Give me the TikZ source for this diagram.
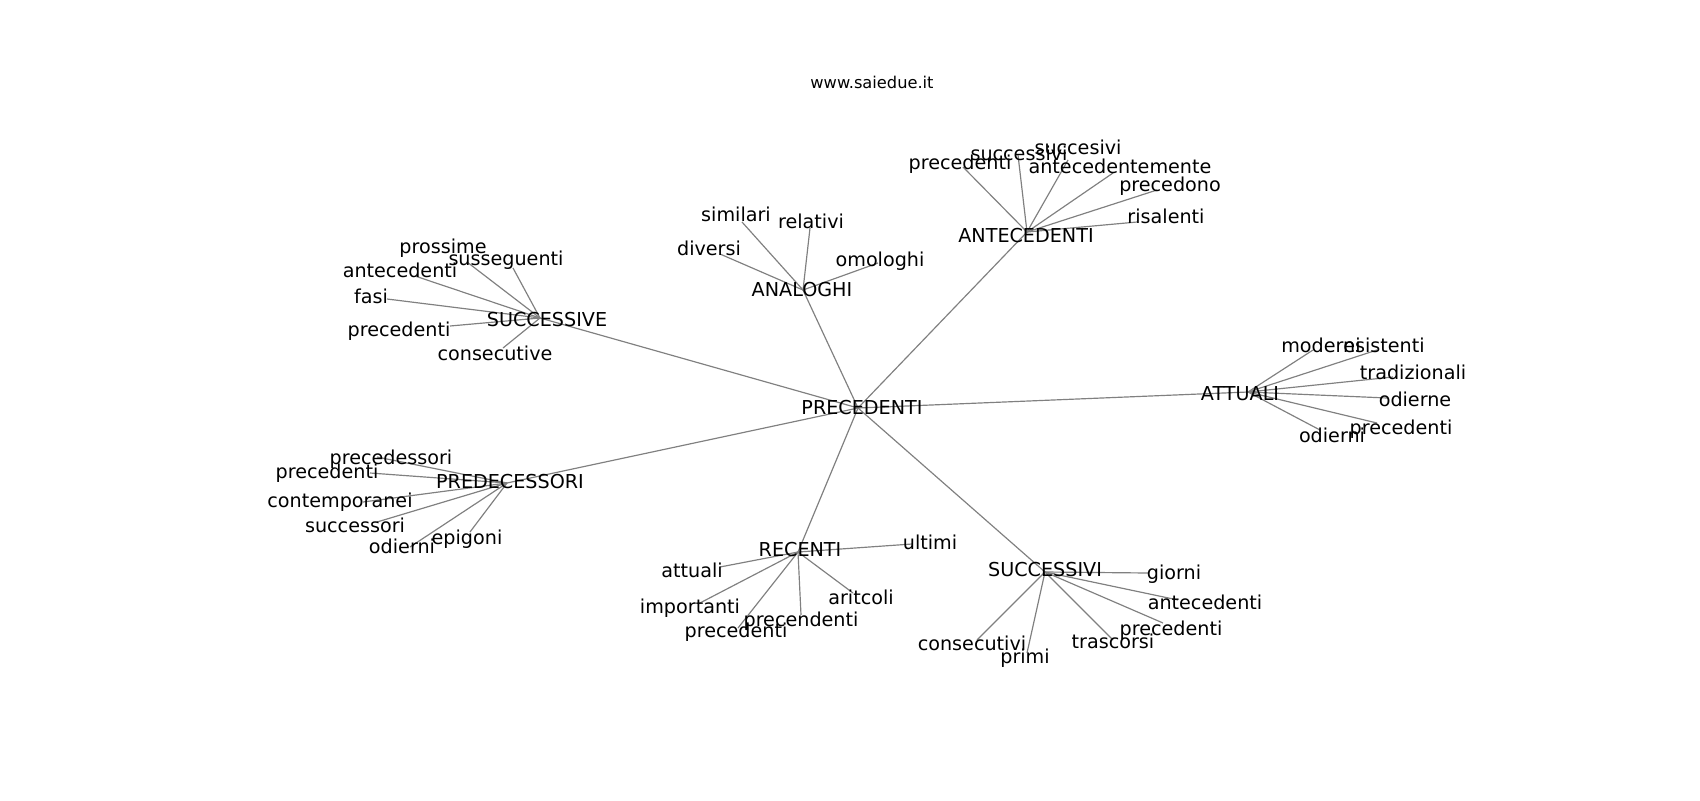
\documentclass[tikz,border=0pt]{standalone}
\usepackage{fontspec}
\setmainfont{DejaVu Sans}
\begin{document}
\begin{tikzpicture}[x=0.72pt,y=-0.72pt,
  edge/.style={draw=black!50,line width=0.85pt},
  lbl/.style={inner sep=0pt,font=\fontsize{13.8pt}{15pt}\selectfont,text height=0.73em,text depth=0.24em,anchor=center,yshift=-2.2pt},
  ttl/.style={inner sep=0pt,font=\fontsize{11.7pt}{13pt}\selectfont,anchor=center}]
\useasboundingbox (0,0) rectangle (1700,800);
% hub points
\coordinate (pPRE) at (858,408);
\coordinate (pSUCE) at (540,318);
\coordinate (pANA) at (803,290);
\coordinate (pANT) at (1027,232);
\coordinate (pATT) at (1248,392);
\coordinate (pPRD) at (507,483);
\coordinate (pREC) at (798,552);
\coordinate (pSUCI) at (1045,572);
% leaf points
\coordinate (a1) at (467,262);
\coordinate (a2) at (513,268);
\coordinate (a3) at (415,276);
\coordinate (a4) at (387,299);
\coordinate (a5) at (450,326);
\coordinate (a6) at (503,348);
\coordinate (b1) at (742,222);
\coordinate (b2) at (810,228);
\coordinate (b3) at (720,254);
\coordinate (b4) at (878,263);
\coordinate (c1) at (963,167);
\coordinate (c2) at (1018,155);
\coordinate (c3) at (1068,160);
\coordinate (c4) at (1113,173);
\coordinate (c5) at (1157,190);
\coordinate (c6) at (1137,222);
\coordinate (d1) at (1313,350);
\coordinate (d2) at (1377,350);
\coordinate (d3) at (1393,377);
\coordinate (d4) at (1387,398);
\coordinate (d5) at (1377,423);
\coordinate (d6) at (1320,430);
\coordinate (e1) at (377,457);
\coordinate (e2) at (370,473);
\coordinate (e3) at (363,502);
\coordinate (e4) at (377,522);
\coordinate (e5) at (410,547);
\coordinate (e6) at (470,532);
\coordinate (f1) at (720,567);
\coordinate (f2) at (698,604);
\coordinate (f3) at (738,628);
\coordinate (f4) at (801,615);
\coordinate (f5) at (853,593);
\coordinate (f6) at (912,544);
\coordinate (g1) at (1148,573);
\coordinate (g2) at (1178,600);
\coordinate (g3) at (1163,623);
\coordinate (g4) at (1113,640);
\coordinate (g5) at (977,640);
\coordinate (g6) at (1027,653);
% edges
\foreach \h in {pSUCE,pANA,pANT,pATT,pPRD,pREC,pSUCI} \draw[edge] (pPRE) -- (\h);
\foreach \l in {a1,a2,a3,a4,a5,a6} \draw[edge] (pSUCE) -- (\l);
\foreach \l in {b1,b2,b3,b4} \draw[edge] (pANA) -- (\l);
\foreach \l in {c1,c2,c3,c4,c5,c6} \draw[edge] (pANT) -- (\l);
\foreach \l in {d1,d2,d3,d4,d5,d6} \draw[edge] (pATT) -- (\l);
\foreach \l in {e1,e2,e3,e4,e5,e6} \draw[edge] (pPRD) -- (\l);
\foreach \l in {f1,f2,f3,f4,f5,f6} \draw[edge] (pREC) -- (\l);
\foreach \l in {g1,g2,g3,g4,g5,g6} \draw[edge] (pSUCI) -- (\l);
% title
\node[ttl] (title) at (872,82) {www.saiedue.it};
% hub labels
\node[lbl] (PRE) at (862,408) {PRECEDENTI};
\node[lbl] (SUCE) at (547,320) {SUCCESSIVE};
\node[lbl] (ANA) at (802,290) {ANALOGHI};
\node[lbl] (ANT) at (1026,236) {ANTECEDENTI};
\node[lbl] (ATT) at (1240,394) {ATTUALI};
\node[lbl] (PRD) at (510,482) {PREDECESSORI};
\node[lbl] (REC) at (800,550) {RECENTI};
\node[lbl] (SUCI) at (1045,570) {SUCCESSIVI};
% leaf labels
\node[lbl] (la1) at (443,247) {prossime};
\node[lbl] (la2) at (506,259) {susseguenti};
\node[lbl] (la3) at (400,271) {antecedenti};
\node[lbl] (la4) at (371,297) {fasi};
\node[lbl] (la5) at (399,330) {precedenti};
\node[lbl] (la6) at (495,354) {consecutive};
\node[lbl] (lb1) at (736,215) {similari};
\node[lbl] (lb2) at (811,222) {relativi};
\node[lbl] (lb3) at (709,249) {diversi};
\node[lbl] (lb4) at (880,260) {omologhi};
\node[lbl] (lc1) at (960,163) {precedenti};
\node[lbl] (lc2) at (1019,154) {successivi};
\node[lbl] (lc3) at (1078,148) {succesivi};
\node[lbl] (lc4) at (1120,167) {antecedentemente};
\node[lbl] (lc5) at (1170,185) {precedono};
\node[lbl] (lc6) at (1166,217) {risalenti};
\node[lbl] (ld1) at (1321,346) {moderni};
\node[lbl] (ld2) at (1384,346) {esistenti};
\node[lbl] (ld3) at (1413,373) {tradizionali};
\node[lbl] (ld4) at (1415,400) {odierne};
\node[lbl] (ld5) at (1401,428) {precedenti};
\node[lbl] (ld6) at (1332,436) {odierni};
\node[lbl] (le1) at (391,458) {precedessori};
\node[lbl] (le2) at (327,472) {precedenti};
\node[lbl] (le3) at (340,501) {contemporanei};
\node[lbl] (le4) at (355,526) {successori};
\node[lbl] (le5) at (402,547) {odierni};
\node[lbl] (le6) at (467,538) {epigoni};
\node[lbl] (lf1) at (692,571) {attuali};
\node[lbl] (lf2) at (690,607) {importanti};
\node[lbl] (lf3) at (736,631) {precedenti};
\node[lbl] (lf4) at (801,620) {precendenti};
\node[lbl] (lf5) at (861,598) {aritcoli};
\node[lbl] (lf6) at (930,543) {ultimi};
\node[lbl] (lg1) at (1174,573) {giorni};
\node[lbl] (lg2) at (1205,603) {antecedenti};
\node[lbl] (lg3) at (1171,629) {precedenti};
\node[lbl] (lg4) at (1113,642) {trascorsi};
\node[lbl] (lg5) at (972,644) {consecutivi};
\node[lbl] (lg6) at (1025,657) {primi};
\end{tikzpicture}
\end{document}
